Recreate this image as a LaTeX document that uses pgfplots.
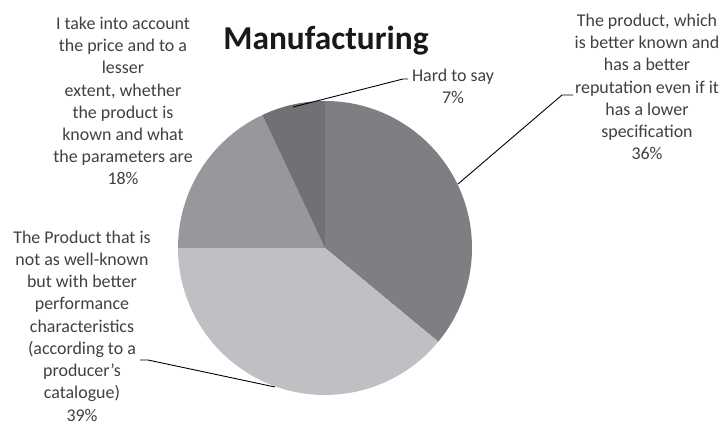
\documentclass[border=0pt]{standalone}
\usepackage{pgfplots}
\pgfplotsset{compat=1.18}
\usepackage{fontspec}
\setmainfont{Carlito}
\definecolor{sA}{HTML}{7F7F83}
\definecolor{sB}{HTML}{BFC0C4}
\definecolor{sC}{HTML}{98989C}
\definecolor{sD}{HTML}{717175}
\definecolor{txt}{HTML}{404040}
\begin{document}
\begin{tikzpicture}
\begin{axis}[width=727bp,height=428bp,scale only axis,
  xmin=0,xmax=727,ymin=0,ymax=428,hide axis,clip=false]
% pie: values in percent, clockwise from 90 degrees
\def\cumul{90}
\foreach \v/\c in {36/sA,39/sB,18/sC,7/sD}{
  \pgfmathsetmacro\endang{\cumul-3.6*\v}
  \edef\tmp{\noexpand\fill[\c] (axis cs:325,180) -- ++(\cumul:147bp) arc[start angle=\cumul,end angle=\endang,radius=147bp] -- cycle;}
  \tmp
  \xdef\cumul{\endang}
}
% leader lines
\draw[black,line width=0.9pt] (axis cs:293,321) -- (axis cs:403,349) -- (axis cs:408,349);
\draw[black,line width=0.9pt] (axis cs:458,244) -- (axis cs:562,333) -- (axis cs:573,333);
\draw[black,line width=0.9pt] (axis cs:275,41) -- (axis cs:148,68) -- (axis cs:140,68);
% title
\node[anchor=base,inner sep=0pt,font=\fontsize{33.5}{40}\selectfont\bfseries,text=black!90] at (axis cs:326,378) {Manufacturing};
% labels
\tikzset{lbl/.style={align=center,inner sep=0pt,text=txt,font=\fontsize{18}{22.3}\selectfont}}
\node[lbl] at (axis cs:453,342) {Hard to say\\7\%};
\node[lbl] at (axis cs:647,341) {The product, which\\is better known and\\has a better\\reputation even if it\\has a lower\\specification\\36\%};
\node[lbl] at (axis cs:123,327) {I take into account\\the price and to a\\lesser\\extent, whether\\the product is\\known and what\\the parameters are\\18\%};
\node[lbl] at (axis cs:82,102) {The Product that is\\not as well-known\\but with better\\performance\\characteristics\\(according to a\\producer’s\\catalogue)\\39\%};
\end{axis}
\pgfresetboundingbox
\useasboundingbox (current axis.south west) rectangle (current axis.north east);
\end{tikzpicture}
\end{document}
